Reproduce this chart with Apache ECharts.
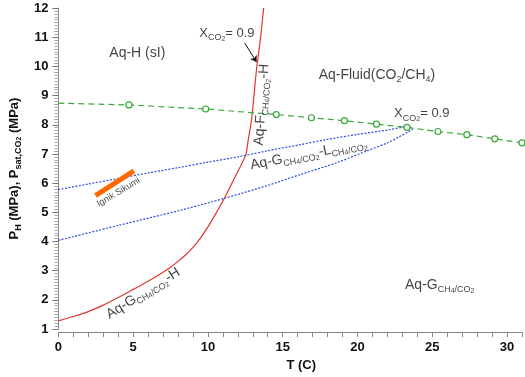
<!DOCTYPE html>
<html>
<head>
<meta charset="utf-8">
<script src="https://cdn.jsdelivr.net/npm/echarts@6/dist/echarts.min.js"></script>
<style>
  html, body { margin: 0; padding: 0; background: #fff; }
  #chart { width: 525px; height: 377px; }
</style>
</head>
<body>
<div id="chart"></div>
<script>
// 数据
var hydrateT = [0, 1, 2, 3, 4, 5, 6, 7, 7.5, 8, 8.5, 9, 9.5, 10, 10.5, 11.1, 11.8, 12.53, 12.7, 12.92, 13.25, 13.5, 13.73];
var hydrateP = [1.28, 1.43, 1.6, 1.82, 2.08, 2.36, 2.64, 2.95, 3.12, 3.32, 3.54, 3.8, 4.12, 4.5, 4.93, 5.48, 6.2, 6.96, 7.5, 8.18, 9.9, 10.9, 12.0];

// 两相包络线 (下支 -> 顶点 -> 上支)
var envT = [0, 4, 8.3, 11.1, 14, 16.2, 18.5, 20.6, 22, 22.8, 23.4, 23.7, 23.36, 22, 20, 18, 16, 14, 12, 10, 8, 6, 4, 2, 0];
var envP = [4.04, 4.55, 5.09, 5.48, 5.92, 6.3, 6.68, 7.1, 7.38, 7.59, 7.76, 7.86, 7.93, 7.82, 7.67, 7.5, 7.3, 7.11, 6.9, 6.72, 6.53, 6.35, 6.16, 5.97, 5.78];

// 饱和压力
var satT = [0, 4.72, 9.85, 14.57, 16.92, 19.13, 21.27, 23.31, 25.38, 27.31, 29.18, 31.0];
var satP = [8.74, 8.68, 8.54, 8.35, 8.24, 8.14, 8.02, 7.91, 7.77, 7.66, 7.52, 7.38];

// Ignik Sikumi
var ignikT = [2.48, 5.05];
var ignikP = [5.57, 6.42];

// 文字标注
var noteText = [
    '{n|Aq-H (sI)}',
    '{m|X}{s|CO}{ss|2}{m|= 0.9}',
    '{n|Aq-Fluid(CO}{s|2}{n|/CH}{s|4}{n|)}',
    '{m|X}{s|CO}{ss|2}{m|= 0.9}',
    '{n|Aq-F}{s|CH}{ss|4}{s|/CO}{ss|2}{n|-H}',
    '{n|Aq-G}{s|CH}{ss|4}{s|/CO}{ss|2}{n|-L}{s|CH}{ss|4}{s|/CO}{ss|2}',
    '{n|Aq-G}{s|CH}{ss|4}{s|/CO}{ss|2}',
    '{n|Aq-G}{s|CH}{ss|4}{s|/CO}{ss|2}{n|-H}',
    '{t|Ignik Sikumi}'
];
var noteT = [5.28, 11.27, 21.3, 24.3, 13.6, 16.74, 25.5, 5.67, 4.02];
var noteP = [10.46, 11.14, 9.71, 8.38, 8.69, 6.99, 2.5, 2.22, 5.69];
var noteRot = [0, 0, 0, 0, 86, 11, 0, 32, 31];

function pairs(xs, ys) {
    var out = [];
    for (var i = 0; i < xs.length; i++) {
        out.push([xs[i], ys[i]]);
    }
    return out;
}

var font = 'Liberation Sans, Arial, sans-serif';
var rich = {
    n: { fontSize: 14, lineHeight: 18, fontFamily: font, color: '#111' },
    m: { fontSize: 13, lineHeight: 18, fontFamily: font, color: '#111' },
    s: { fontSize: 9, lineHeight: 9, verticalAlign: 'bottom', fontFamily: font, color: '#111' },
    ss: { fontSize: 7, lineHeight: 5, verticalAlign: 'bottom', fontFamily: font, color: '#111' },
    t: { fontSize: 9, lineHeight: 10, fontFamily: font, color: '#111' }
};

var noteData = [];
for (var i = 0; i < noteText.length; i++) {
    noteData.push({
        value: [noteT[i], noteP[i]],
        label: { formatter: noteText[i], rotate: noteRot[i] }
    });
}

var satData = pairs(satT, satP).map(function (p, i) {
    return i === 0 ? { value: p, symbol: 'none' } : { value: p };
});

var chart = echarts.init(document.getElementById('chart'));
var option = {
    animation: false,
    grid: { left: 54, right: 1, top: 8, bottom: 46 },
    xAxis: {
        type: 'value',
        min: 0,
        max: 31,
        interval: 1,
        offset: 3,
        name: 'T (C)',
        nameLocation: 'middle',
        nameGap: 23,
        nameTextStyle: { fontFamily: font, fontWeight: 'bold', fontSize: 13, color: '#111', padding: [0, 0, 0, 22] },
        axisLine: { lineStyle: { color: '#888' } },
        axisTick: { length: 5, lineStyle: { color: '#888' } },
        axisLabel: {
            fontFamily: font, fontWeight: 'bold', fontSize: 13, color: '#111', margin: 9,
            formatter: function (v) { return v % 5 === 0 ? String(v) : ''; }
        },
        splitLine: { show: false }
    },
    yAxis: {
        type: 'value',
        min: 1,
        max: 12,
        interval: 1,
        offset: 2,
        name: '{b|P}{bs|H}{b| (MPa), P}{bs|sat,CO}{bss|2}{b| (MPa)}',
        nameLocation: 'middle',
        nameGap: 25,
        nameTextStyle: {
            rich: {
                b: { fontFamily: font, fontWeight: 'bold', fontSize: 13, lineHeight: 17, color: '#111' },
                bs: { fontFamily: font, fontWeight: 'bold', fontSize: 9, lineHeight: 9, verticalAlign: 'bottom', color: '#111' },
                bss: { fontFamily: font, fontWeight: 'bold', fontSize: 7, lineHeight: 5, verticalAlign: 'bottom', color: '#111' }
            }
        },
        axisLine: { show: true, lineStyle: { color: '#888' } },
        axisTick: { show: true, length: 6, lineStyle: { color: '#777' } },
        minorTick: { show: true, splitNumber: 10, length: 4, lineStyle: { color: '#aaa' } },
        axisLabel: { fontFamily: font, fontWeight: 'bold', fontSize: 13, color: '#111', margin: 8 },
        splitLine: { show: false }
    },
    series: [
        {
            name: 'hydrate',
            type: 'line',
            data: pairs(hydrateT, hydrateP),
            smooth: 0.2,
            symbol: 'none',
            lineStyle: { color: '#e2362b', width: 1.2 }
        },
        {
            name: 'envelope',
            type: 'line',
            data: pairs(envT, envP),
            smooth: 0.3,
            symbol: 'none',
            lineStyle: { color: '#2b4fe3', width: 1.2, type: [2, 1.5] }
        },
        {
            name: 'psat',
            type: 'line',
            data: satData,
            symbol: 'circle',
            symbolSize: 6,
            itemStyle: { color: '#fff', borderColor: '#3aa83a', borderWidth: 1.2 },
            lineStyle: { color: '#3aa83a', width: 1.2, type: [6, 4] }
        },
        {
            name: 'ignik',
            type: 'line',
            data: pairs(ignikT, ignikP),
            symbol: 'none',
            lineStyle: { color: '#ff6a00', width: 5, cap: 'butt' }
        },
        {
            name: 'notes',
            type: 'scatter',
            data: noteData,
            symbolSize: 0,
            silent: true,
            z: 5,
            label: { show: true, position: 'inside', align: 'center', verticalAlign: 'middle', rich: rich },
            markLine: {
                silent: true,
                symbol: ['none', 'arrow'],
                symbolSize: 6,
                label: { show: false },
                lineStyle: { color: '#111', width: 1, type: 'solid' },
                data: [[{ coord: [12.46, 10.8] }, { coord: [13.25, 10.15] }]]
            }
        }
    ]
};
chart.setOption(option);
</script>
</body>
</html>
